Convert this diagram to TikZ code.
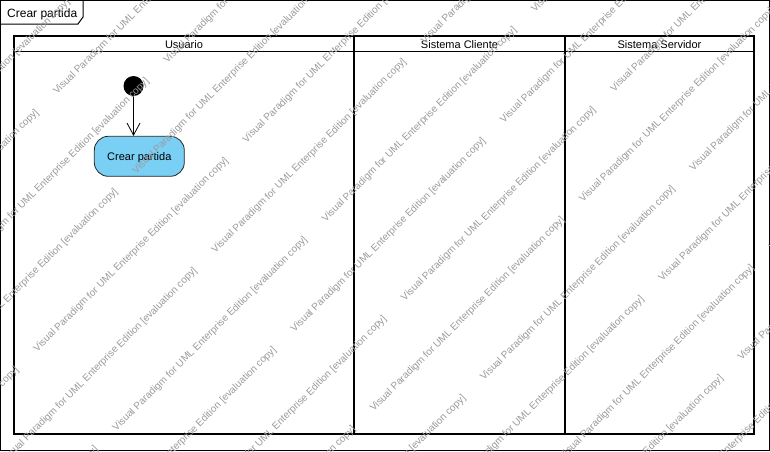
\documentclass[tikz,border=0pt]{standalone}
\usepackage{fontspec}
\setmainfont{Liberation Sans}
\usetikzlibrary{arrows.meta}
\definecolor{actfill}{RGB}{122,207,245}
\definecolor{wmgray}{RGB}{155,155,155}
\begin{document}
\begin{tikzpicture}[x=1pt,y=-1pt,
  frameline/.style={draw=black,line width=1pt},
  lane/.style={draw=black,line width=1.8pt},
  hdr/.style={font=\fontsize{11}{13}\selectfont,inner sep=0pt,anchor=base},
  action/.style={draw=black!85,fill=actfill,rounded corners=14pt,minimum width=90pt,minimum height=40pt,
    font=\fontsize{11}{13}\selectfont,text height=8pt,text depth=0pt,line width=0.8pt},
  initnode/.style={circle,fill=black,minimum size=20pt,inner sep=0pt},
  flow/.style={-{Straight Barb[length=12pt,width=13pt]},draw=black,line width=0.8pt},
  wm/.style={rotate=45,anchor=base west,inner sep=0pt,text=wmgray,font=\fontsize{10}{12}\selectfont}
]
\useasboundingbox (0,0) rectangle (770,451);
\fill[white] (0,0) rectangle (770,451);

% outer frame and its label
\draw[frameline] (0.5,0.5) rectangle (769.5,450.5);
\draw[frameline] (0.5,24) -- (78,24) -- (83,17) -- (83,0.5);
\node[anchor=base west,inner sep=0pt,font=\fontsize{12}{14}\selectfont] (title) at (7,17) {Crear partida};

% swimlanes
\draw[lane] (14,36) rectangle (754,434);
\draw[lane] (14,51.5) -- (754,51.5);
\draw[lane] (354,36) -- (354,434);
\draw[lane] (565,36) -- (565,434);
\node[hdr] (h1) at (184,48) {Usuario};
\node[hdr] (h2) at (459.5,48) {Sistema Cliente};
\node[hdr] (h3) at (659.5,48) {Sistema Servidor};

% activity
\node[initnode] (init) at (133.5,86) {};
\node[action] (act) at (139.3,156.3) {Crear partida};
\draw[flow] (init.south) -- (init.south |- act.north);

% watermark
\begin{scope}
\clip (0,0) rectangle (770,451);
\foreach \k in {-2,...,14} {
  \foreach \n in {-2,...,2} {
    \pgfmathsetmacro\pp{107.5+56*\k}
    \pgfmathsetmacro\sz{isodd(\k) ? 73 : -27}
    \pgfmathsetmacro\ss{\sz+296*\n}
    \pgfmathsetmacro\xx{(\pp+\ss)/sqrt(2)}
    \pgfmathsetmacro\yy{(\pp-\ss)/sqrt(2)}
    \node[wm] (wm-\k-\n) at (\xx,\yy) {Visual Paradigm for UML Enterprise Edition [evaluation copy]};
  }
}
\end{scope}
\end{tikzpicture}
\end{document}
